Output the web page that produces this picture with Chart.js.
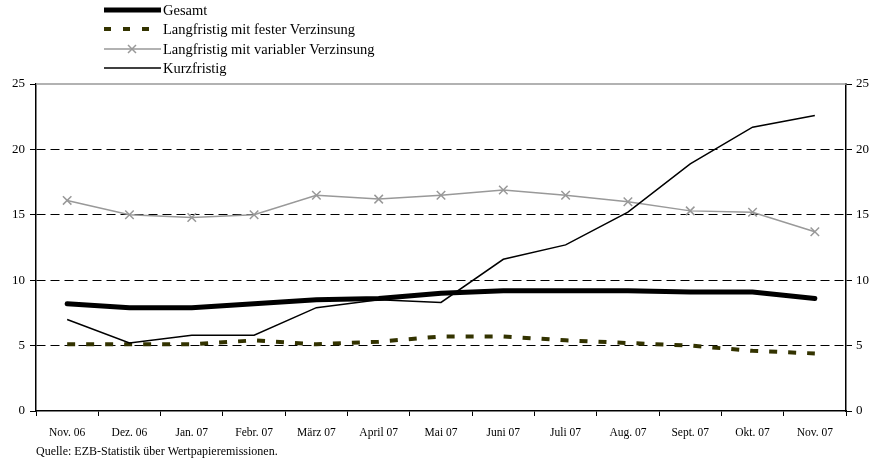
<!DOCTYPE html>
<html>
<head>
<meta charset="utf-8">
<script src="https://cdn.jsdelivr.net/npm/chart.js@4"></script>
<style>
html,body{margin:0;padding:0;background:#fff;}
#wrap{width:876px;height:463px;position:relative;}
</style>
</head>
<body>
<div id="wrap"><canvas id="chart" width="876" height="463"></canvas></div>
<script>
const monate=['Nov. 06','Dez. 06','Jan. 07','Febr. 07','März 07','April 07','Mai 07','Juni 07','Juli 07','Aug. 07','Sept. 07','Okt. 07','Nov. 07'];
const gesamt=[8.2,7.9,7.9,8.2,8.5,8.6,9.0,9.2,9.2,9.2,9.1,9.1,8.6];
const fest=[5.1,5.1,5.1,5.4,5.1,5.3,5.7,5.7,5.4,5.2,5.0,4.6,4.4];
const variabel=[16.1,15.0,14.8,15.0,16.5,16.2,16.5,16.9,16.5,16.0,15.3,15.2,13.7];
const kurz=[7.0,5.2,5.8,5.8,7.9,8.5,8.3,11.6,12.7,15.2,18.9,21.7,22.6];
const yTicks=[0,5,10,15,20,25];
const quelle='Quelle: EZB-Statistik über Wertpapieremissionen.';
const serif='"Liberation Serif","Times New Roman",serif';

const sets=[
  {label:'Gesamt',data:gesamt,borderColor:'#000',borderWidth:5,pointRadius:0,order:1,borderCapStyle:'round'},
  {label:'Langfristig mit fester Verzinsung',data:fest,borderColor:'#333300',borderWidth:4,borderDash:[8,11],pointRadius:0,order:4},
  {label:'Langfristig mit variabler Verzinsung',data:variabel,borderColor:'#999',borderWidth:1.5,pointStyle:'crossRot',pointRadius:6,pointBorderWidth:1.5,pointBorderColor:'#999',order:3},
  {label:'Kurzfristig',data:kurz,borderColor:'#000',borderWidth:1.5,pointRadius:0,order:2}
];

const extras={
  id:'extras',
  afterDraw(c){
    const g=c.ctx,a=c.chartArea;
    g.save();
    // Rahmen oben
    g.strokeStyle='#999';g.lineWidth=1.5;
    g.beginPath();g.moveTo(a.left,a.top);g.lineTo(a.right,a.top);g.stroke();
    // Legende
    g.font='14.5px '+serif;g.fillStyle='#000';g.textBaseline='middle';
    const ys=[10,29,49,68];
    sets.forEach((s,i)=>{
      const y=ys[i];
      g.save();
      g.strokeStyle=s.borderColor;g.lineWidth=s.borderWidth;
      g.setLineDash(s.borderDash?[7,12]:[]);
      g.beginPath();g.moveTo(104,y);g.lineTo(s.borderDash?155:161,y);g.stroke();
      g.restore();
      if(s.pointStyle){
        g.save();g.strokeStyle='#999';g.lineWidth=1.5;
        g.beginPath();g.moveTo(128,y-4);g.lineTo(136,y+4);g.moveTo(136,y-4);g.lineTo(128,y+4);g.stroke();
        g.restore();
      }
      g.fillText(s.label,163,y+1);
    });
    g.font='12px '+serif;g.textBaseline='middle';
    g.fillText(quelle,36,452);
    g.restore();
  }
};

new Chart(document.getElementById('chart'),{
  type:'line',
  data:{labels:monate,datasets:sets.map(s=>Object.assign({fill:false,tension:0},s))},
  options:{
    responsive:false,animation:false,
    layout:{padding:{top:84,left:0,right:0,bottom:0}},
    plugins:{legend:{display:false},tooltip:{enabled:false}},
    scales:{
      x:{
        offset:true,
        grid:{offset:true,drawOnChartArea:false,tickLength:5,tickColor:'#000',lineWidth:1},
        border:{color:'#000',width:1.5},
        ticks:{color:'#000',font:{family:serif,size:11.5},maxRotation:0,autoSkip:false,padding:10},
        afterFit(s){s.height=52;}
      },
      y:{
        min:0,max:25,
        afterBuildTicks(s){s.ticks=yTicks.map(v=>({value:v}));},
        grid:{color:ctx=>(ctx.tick&&(ctx.tick.value===0||ctx.tick.value===25))?'rgba(0,0,0,0)':'#000',lineWidth:1,tickLength:6,tickColor:'#000'},
        border:{color:'#000',width:1.5,dash:[9,5]},
        ticks:{color:'#000',font:{family:serif,size:13},padding:5},
        afterFit(s){s.width=36;}
      },
      y2:{
        position:'right',min:0,max:25,
        afterBuildTicks(s){s.ticks=yTicks.map(v=>({value:v}));},
        grid:{drawOnChartArea:false,tickLength:6,tickColor:'#000'},
        border:{color:'#000',width:1.5},
        ticks:{color:'#000',font:{family:serif,size:13},padding:4},
        afterFit(s){s.width=30;}
      }
    }
  },
  plugins:[extras]
});
</script>
</body>
</html>
